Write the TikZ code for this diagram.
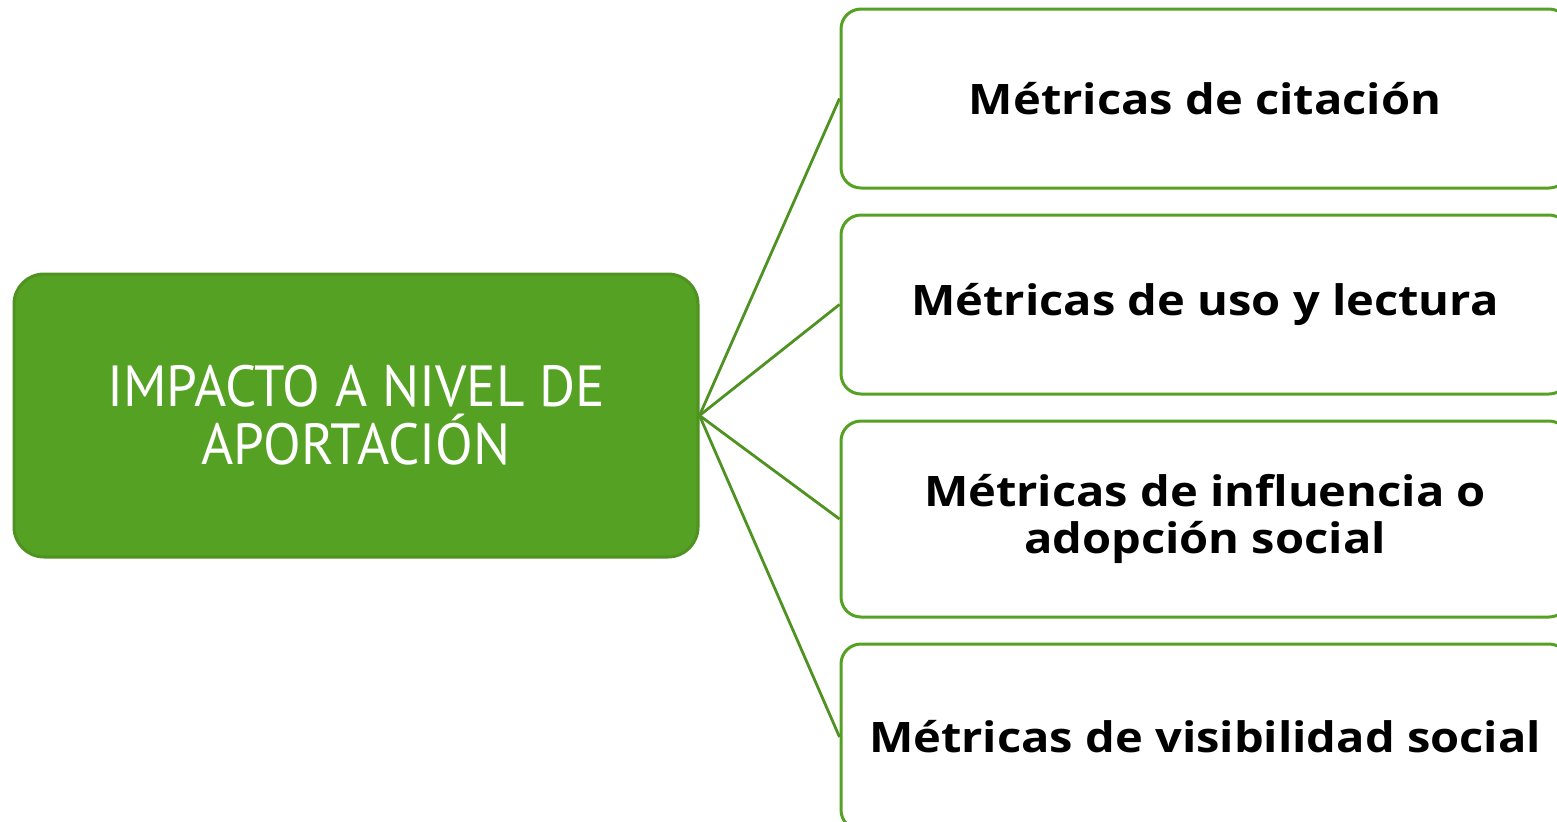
\documentclass[tikz,border=0pt]{standalone}
\usepackage{fontspec}
\setmainfont{Open Sans}
\newfontfamily\leaffont[FakeStretch=1.12]{Open Sans}
\newfontfamily\hubfont[FakeStretch=0.95]{PT Sans}
\usetikzlibrary{calc}
\definecolor{leaf}{HTML}{55A124}
\definecolor{leafdark}{HTML}{4F9222}

\begin{document}
\begin{tikzpicture}[x=0.5pt, y=-0.5pt,
		hubbox/.style={draw=leafdark, fill=leaf, line width=1.5pt, rounded corners=15pt,
			minimum width=342pt, minimum height=141.5pt, align=center, text=white,
			font=\hubfont\fontsize{29}{29}\selectfont},
		metricbox/.style={draw=leaf, fill=white, line width=1.5pt, rounded corners=10pt,
			minimum width=364pt, align=center, text=black,
			font=\leaffont\bfseries\fontsize{21}{23.5}\selectfont},
		branch/.style={draw=leafdark, line width=1.4pt}]
			%%%%% START %%%%%
			\clip (0, 0) rectangle (1557, 821);
			\useasboundingbox (0, 0) rectangle (1557, 821);
			
			\node[hubbox] (hub) at (356, 415.5) {IMPACTO A NIVEL DE\\APORTACIÓN};
			
			\node[metricbox, minimum height=89.5pt] (cita) at (1205, 98.5) {Métricas de citación};
			\node[metricbox, minimum height=89.5pt] (uso) at (1205, 304.5) {Métricas de uso y lectura};
			\node[metricbox, minimum height=98pt] (influ) at (1205, 519) {Métricas de influencia o\\adopción social};
			\node[metricbox, minimum height=93pt] (visib) at (1205, 737) {Métricas de visibilidad social};
			
			\draw[branch] (hub.east) -- (cita.west);
			\draw[branch] (hub.east) -- (uso.west);
			\draw[branch] (hub.east) -- (influ.west);
			\draw[branch] (hub.east) -- (visib.west);
			
			%%%%% END %%%%%
\end{tikzpicture}
\end{document}
